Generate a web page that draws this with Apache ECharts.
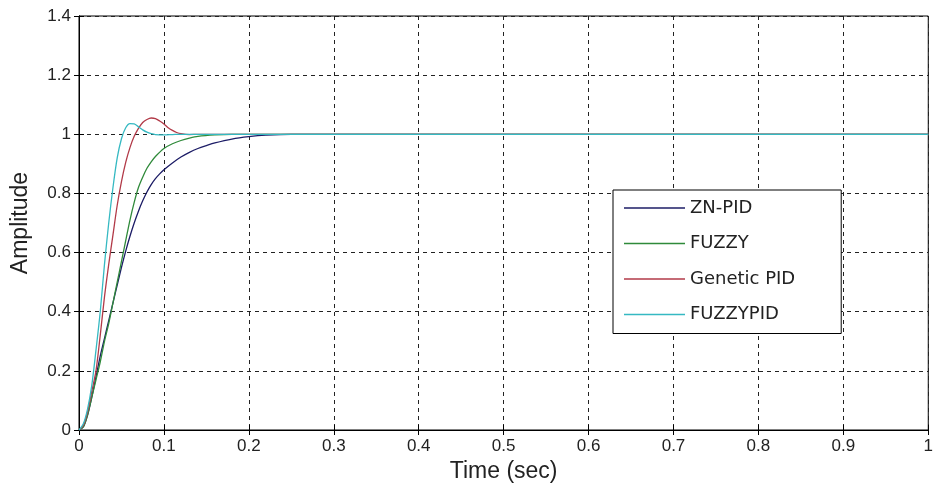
<!DOCTYPE html>
<html>
<head>
<meta charset="utf-8">
<script src="https://cdn.jsdelivr.net/npm/echarts@6/dist/echarts.min.js"></script>
<style>
  html, body { margin: 0; padding: 0; background: #fff; }
  #step-chart { width: 936px; height: 490px; }
</style>
</head>
<body>
<div id="step-chart"></div>
<script>
// step responses (time in sec, amplitude)
const seriesNames = ['ZN-PID', 'FUZZY', 'Genetic PID', 'FUZZYPID'];
const seriesColors = ['#1c1c66', '#2f8a3a', '#b23a48', '#35b9c2'];

const timeZn = [0, 0.005, 0.01, 0.015, 0.02, 0.025, 0.03, 0.035, 0.04, 0.045, 0.05, 0.055, 0.06, 0.065, 0.07, 0.075, 0.08, 0.085, 0.09, 0.095, 0.1, 0.11, 0.12, 0.13, 0.14, 0.15, 0.16, 0.18, 0.2, 0.22, 0.25, 1];
const ampZn = [0, 0.01, 0.05, 0.11, 0.18, 0.25, 0.31, 0.37, 0.43, 0.49, 0.55, 0.605, 0.655, 0.70, 0.74, 0.775, 0.805, 0.83, 0.85, 0.866, 0.88, 0.903, 0.923, 0.939, 0.952, 0.962, 0.971, 0.984, 0.992, 0.997, 1, 1];

const timeFuzzy = [0, 0.005, 0.01, 0.015, 0.02, 0.025, 0.03, 0.035, 0.04, 0.045, 0.05, 0.055, 0.06, 0.065, 0.07, 0.075, 0.08, 0.085, 0.09, 0.1, 0.11, 0.12, 0.13, 0.14, 0.16, 0.18, 1];
const ampFuzzy = [0, 0.01, 0.05, 0.11, 0.17, 0.23, 0.30, 0.36, 0.43, 0.50, 0.57, 0.64, 0.71, 0.77, 0.82, 0.855, 0.885, 0.907, 0.925, 0.952, 0.968, 0.979, 0.987, 0.993, 0.998, 1, 1];

const timeGa = [0, 0.005, 0.01, 0.015, 0.02, 0.025, 0.03, 0.035, 0.04, 0.045, 0.05, 0.055, 0.06, 0.065, 0.07, 0.075, 0.08, 0.085, 0.09, 0.095, 0.1, 0.105, 0.11, 0.115, 0.12, 0.13, 0.14, 1];
const ampGa = [0, 0.015, 0.06, 0.13, 0.20, 0.32, 0.45, 0.56, 0.66, 0.76, 0.84, 0.905, 0.955, 0.993, 1.02, 1.04, 1.05, 1.055, 1.053, 1.045, 1.035, 1.022, 1.013, 1.006, 1.002, 0.999, 1, 1];

const timeFp = [0, 0.005, 0.01, 0.015, 0.02, 0.025, 0.03, 0.035, 0.04, 0.045, 0.05, 0.055, 0.06, 0.065, 0.07, 0.075, 0.08, 0.085, 0.09, 0.1, 0.11, 0.12, 1];
const ampFp = [0, 0.02, 0.07, 0.15, 0.27, 0.40, 0.56, 0.70, 0.82, 0.92, 0.985, 1.022, 1.036, 1.035, 1.025, 1.015, 1.007, 1.002, 0.999, 0.998, 0.999, 1, 1];

const xTicks = { min: 0, max: 1, interval: 0.1 };
const yTicks = { min: 0, max: 1.4, interval: 0.2 };

function pairUp(ts, ys) {
  return ts.map((t, i) => [t, ys[i]]);
}

const curves = [
  pairUp(timeZn, ampZn),
  pairUp(timeFuzzy, ampFuzzy),
  pairUp(timeGa, ampGa),
  pairUp(timeFp, ampFp)
];

let myChart = echarts.init(document.getElementById('step-chart'));

const dashed = { color: '#222', width: 1, type: [4, 4] };
const tickFmt = v => String(Math.round(v * 10) / 10);

let option = {
  backgroundColor: '#fff',
  animation: false,
  grid: {
    left: 79, right: 3, top: 16, bottom: 60,
    show: true, borderColor: '#000', borderWidth: 1, backgroundColor: 'transparent'
  },
  legend: {
    orient: 'vertical',
    left: 613,
    top: 190,
    data: seriesNames,
    icon: 'rect',
    itemWidth: 61,
    itemHeight: 1.5,
    itemGap: 15.5,
    padding: [8, 46, 9, 11],
    backgroundColor: '#fff',
    borderColor: '#000',
    borderWidth: 1,
    borderRadius: 0,
    textStyle: { fontFamily: 'DejaVu Sans', fontSize: 18, color: '#222', lineHeight: 20 }
  },
  xAxis: [
    {
      type: 'value',
      min: xTicks.min, max: xTicks.max, interval: xTicks.interval,
      name: 'Time (sec)',
      nameLocation: 'middle',
      nameGap: 28,
      nameTextStyle: { fontFamily: 'Liberation Sans', fontSize: 23, color: '#222' },
      axisLine: { show: true, lineStyle: { color: '#000' } },
      axisTick: { show: true, inside: true, length: 5, lineStyle: { color: '#000' } },
      axisLabel: { fontFamily: 'Liberation Sans', fontSize: 17, color: '#222', margin: 8, formatter: tickFmt },
      splitLine: { show: true, lineStyle: dashed }
    },
    {
      type: 'value', position: 'top',
      min: xTicks.min, max: xTicks.max, interval: xTicks.interval,
      axisLine: { show: true, lineStyle: { color: '#000' } },
      axisTick: { show: true, inside: true, length: 5, lineStyle: { color: '#000' } },
      axisLabel: { show: false },
      splitLine: { show: false }
    }
  ],
  yAxis: [
    {
      type: 'value',
      min: yTicks.min, max: yTicks.max, interval: yTicks.interval,
      name: 'Amplitude',
      nameLocation: 'middle',
      nameGap: 47,
      nameTextStyle: { fontFamily: 'Liberation Sans', fontSize: 23, color: '#222' },
      axisLine: { show: true, lineStyle: { color: '#000' } },
      axisTick: { show: true, inside: true, length: 5, lineStyle: { color: '#000' } },
      axisLabel: { fontFamily: 'Liberation Sans', fontSize: 17, color: '#222', margin: 8, formatter: tickFmt },
      splitLine: { show: true, lineStyle: dashed }
    },
    {
      type: 'value', position: 'right',
      min: yTicks.min, max: yTicks.max, interval: yTicks.interval,
      axisLine: { show: true, lineStyle: { color: '#000' } },
      axisTick: { show: true, inside: true, length: 5, lineStyle: { color: '#000' } },
      axisLabel: { show: false },
      splitLine: { show: false }
    }
  ],
  series: seriesNames.map((name, i) => ({
    name: name,
    type: 'line',
    data: curves[i],
    showSymbol: false,
    symbol: 'none',
    smooth: 0.3,
    color: seriesColors[i],
    lineStyle: { width: 1.3, color: seriesColors[i] }
  }))
};

myChart.setOption(option);
</script>
</body>
</html>
